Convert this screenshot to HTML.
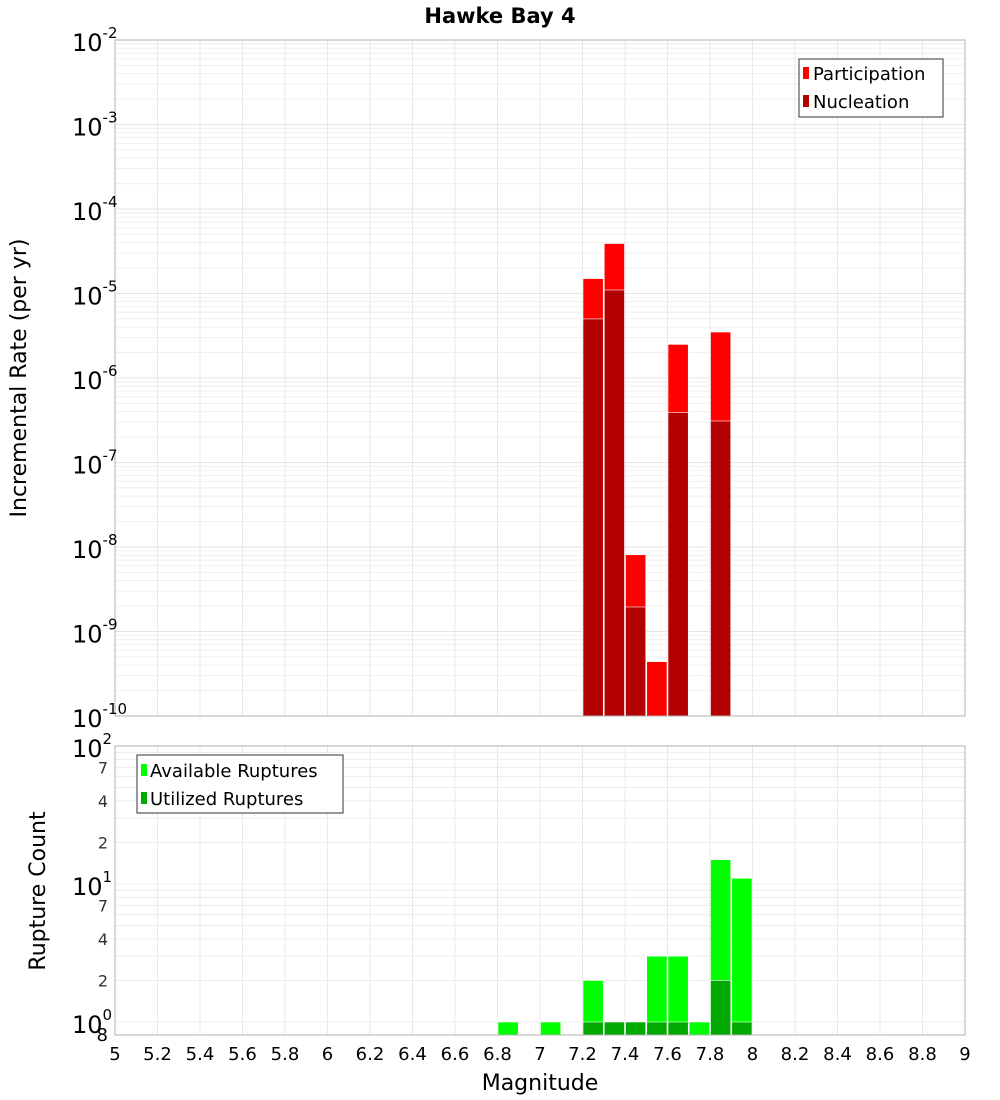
<!DOCTYPE html>
<html><head><meta charset="utf-8"><style>
body{margin:0;background:#fff;}
svg{display:block;font-family:"DejaVu Sans","Liberation Sans",sans-serif;}
</style></head><body>
<svg id="c" width="1000" height="1100" xmlns="http://www.w3.org/2000/svg"></svg>
<script>
const magBins=[7.25,7.35,7.45,7.55,7.65,7.85];
const participation=[1.5e-5,3.9e-5,8.1e-9,4.4e-10,2.5e-6,3.5e-6];
const nucleation=[5.0e-6,1.1e-5,1.95e-9,0,3.9e-7,3.1e-7];
const countBins=[6.85,7.05,7.25,7.35,7.45,7.55,7.65,7.75,7.85,7.95];
const available=[1,1,2,1,1,3,3,1,15,11];
const utilized=[0,0,1,1,1,1,1,0,2,1];
const xTicks=[5,5.2,5.4,5.6,5.8,6,6.2,6.4,6.6,6.8,7,7.2,7.4,7.6,7.8,8,8.2,8.4,8.6,8.8,9];
const topExps=[-2,-3,-4,-5,-6,-7,-8,-9,-10];
const botMinor=[["7",7],["4",4],["2",2],["7",70],["4",40],["2",20]];

const S=document.getElementById('c'),NS='http://www.w3.org/2000/svg';
function el(t,a,name,txt){const e=document.createElementNS(NS,t);for(const k in a)e.setAttribute(k,a[k]);


if(txt!==undefined)e.textContent=txt;S.appendChild(e);return e;}
const X0=115,X1=965;
const xs=v=>X0+(v-5)/4*(X1-X0);
const T0=40,T1=716;
const ty=v=>T0+(-2-Math.log10(v))/8*(T1-T0);
const B0=746,B1=1035;
const by=v=>1022-Math.log10(v)*138;

for(let d=-10;d<-2;d++)for(let m=1;m<10;m++){const y=ty(m*Math.pow(10,d));
el('line',{x1:X0,x2:X1,y1:y,y2:y,stroke:m==1?'#e4e4e4':'#efefef','stroke-width':1},'top-grid-line');}
xTicks.forEach(t=>{el('line',{x1:xs(t),x2:xs(t),y1:T0,y2:T1,stroke:'#e8e8e8'},'top-grid-vertical');
el('line',{x1:xs(t),x2:xs(t),y1:B0,y2:B1,stroke:'#e8e8e8'},'bottom-grid-vertical');});
[1,2,3,4,5,6,7,8,9,10,20,30,40,50,60,70,80,90].forEach(v=>{const y=by(v);
el('line',{x1:X0,x2:X1,y1:y,y2:y,stroke:'#ececec'},'bottom-grid-line');});

const bw=(X1-X0)/40;
magBins.forEach((m,i)=>{const x=xs(m)-bw/2;
const yp=ty(participation[i]);
el('rect',{x:x+0.5,y:yp,width:bw-1,height:T1-yp,fill:'#ff0000',stroke:'#fff','stroke-width':0.6},'participation-bar');
if(nucleation[i]>0){const yn=ty(nucleation[i]);
el('rect',{x:x+0.5,y:yn,width:bw-1,height:T1-yn,fill:'#b30000',stroke:'#fff','stroke-width':0.6},'nucleation-bar');}});
countBins.forEach((m,i)=>{const x=xs(m)-bw/2;
const ya=by(available[i]);
el('rect',{x:x+0.5,y:ya,width:bw-1,height:B1-ya,fill:'#00ff00',stroke:'#fff','stroke-width':0.6},'available-bar');
if(utilized[i]>0){const yu=by(utilized[i]);
el('rect',{x:x+0.5,y:yu,width:bw-1,height:B1-yu,fill:'#00aa00',stroke:'#fff','stroke-width':0.6},'utilized-bar');}});

el('rect',{x:X0,y:T0,width:X1-X0,height:T1-T0,fill:'none',stroke:'#b0b0b0'},'top-plot-frame');
el('rect',{x:X0,y:B0,width:X1-X0,height:B1-B0,fill:'none',stroke:'#b0b0b0'},'bottom-plot-frame');

el('text',{x:500,y:23,'text-anchor':'middle','font-size':21,'font-weight':'bold'},'chart-title','Hawke Bay 4');
topExps.forEach(e=>{const y=ty(Math.pow(10,e));
const t=el('text',{x:72,y:y+11,'font-size':24},'y-tick-label');
t.textContent='10';const s=document.createElementNS(NS,'tspan');s.setAttribute('dy',-13);s.setAttribute('font-size',15);s.textContent=String(e);t.appendChild(s);});
[[100,'2'],[10,'1'],[1,'0']].forEach(([v,e])=>{const y=by(v);
const t=el('text',{x:72,y:y+11,'font-size':24},'bottom-y-tick-label');
t.textContent='10';const s=document.createElementNS(NS,'tspan');s.setAttribute('dy',-13);s.setAttribute('font-size',15);s.textContent=e;t.appendChild(s);});
botMinor.forEach(([l,v])=>el('text',{x:108,y:by(v)+6,'font-size':16,'text-anchor':'end',fill:'#333'},'bottom-y-minor-label',l));
el('text',{x:108,y:1041,'font-size':18,'text-anchor':'end'},'bottom-y-min-label','8');
xTicks.forEach(t=>el('text',{x:xs(t),y:1060,'font-size':18,'text-anchor':'middle'},'x-tick-label',String(t)));
el('text',{x:540,y:1090,'font-size':22,'text-anchor':'middle'},'x-axis-title','Magnitude');
el('text',{x:0,y:0,'font-size':22,'text-anchor':'middle',transform:'translate(26,378) rotate(-90)'},'y-axis-title','Incremental Rate (per yr)');
el('text',{x:0,y:0,'font-size':22,'text-anchor':'middle',transform:'translate(45,891) rotate(-90)'},'bottom-y-axis-title','Rupture Count');

el('rect',{x:799,y:59,width:144,height:58,fill:'#fff',stroke:'#333'},'top-legend-box');
el('rect',{x:803,y:67,width:6,height:12,fill:'#ff0000'},'legend-swatch-participation');
el('text',{x:813,y:80,'font-size':18},'legend-participation','Participation');
el('rect',{x:803,y:95,width:6,height:12,fill:'#b30000'},'legend-swatch-nucleation');
el('text',{x:813,y:108,'font-size':18},'legend-nucleation','Nucleation');
el('rect',{x:137,y:755,width:206,height:58,fill:'#fff',stroke:'#333'},'bottom-legend-box');
el('rect',{x:141,y:764,width:6,height:12,fill:'#00ff00'},'legend-swatch-available');
el('text',{x:150,y:777,'font-size':18},'legend-available','Available Ruptures');
el('rect',{x:141,y:792,width:6,height:12,fill:'#00aa00'},'legend-swatch-utilized');
el('text',{x:150,y:805,'font-size':18},'legend-utilized','Utilized Ruptures');
</script>
</body></html>
